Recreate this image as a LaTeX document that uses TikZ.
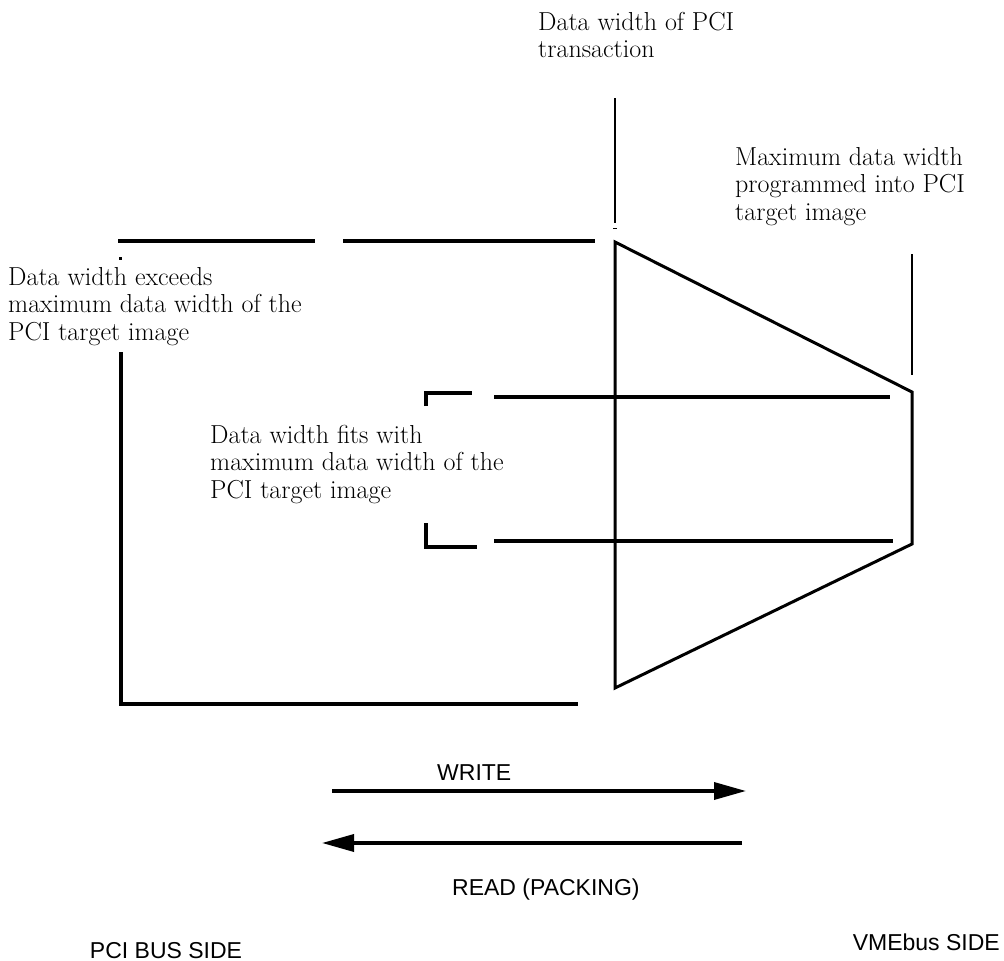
\documentclass[tikz,border=0pt]{standalone}
\usepackage{fontspec}
\setsansfont{Liberation Sans}
\usetikzlibrary{arrows.meta}
\begin{document}
\begin{tikzpicture}[x=1pt,y=-1pt,
  note/.style={anchor=north west, inner sep=0pt, align=left,
    font=\fontsize{26}{27.5}\selectfont},
  tag/.style={anchor=base west, inner sep=0pt,
    font=\sffamily\fontsize{23}{26}\selectfont},
  heavy/.style={line width=3.5pt},
  body/.style={line width=3pt, line join=miter},
  guide/.style={line width=2pt},
  flow/.style={line width=3.5pt, -{Triangle[length=32pt,width=17pt]}}]
\useasboundingbox (0,0) rectangle (1004,961);

% funnel between the PCI side and the VMEbus side
\coordinate (tl) at (615,242);
\coordinate (tr) at (912,392);
\coordinate (br) at (912,544);
\coordinate (bl) at (615,688);
\draw[body] (tl) -- (tr) -- (br) -- (bl) -- cycle;

% width markers above the funnel
\coordinate (pciTop) at (615,98);
\coordinate (pciBot) at (615,223);
\draw[guide] (pciTop) -- (pciBot);
\draw[line width=1pt] (613,228) -- (617,228);
\coordinate (imgTop) at (912,254);
\coordinate (imgBot) at (912,375);
\draw[guide] (imgTop) -- (imgBot);

% outer bracket: data width exceeds the image width
\draw[heavy] (118,241) -- (315,241);
\draw[heavy] (343,241) -- (595,241);
\fill (118.5,256.5) rectangle (121.5,259.5);
\draw[heavy] (121,352) -- (121,704) -- (578,704);

% inner bracket: data width fits the image width
\draw[heavy] (426,406) -- (426,393) -- (472,393);
\draw[heavy] (494,397) -- (890,397);
\draw[heavy] (426,523) -- (426,547) -- (477,547);
\draw[heavy] (494,541) -- (893,541);

% direction arrows
\coordinate (wA) at (332,791);
\coordinate (wB) at (746,791);
\draw[flow] (wA) -- (wB);
\coordinate (rA) at (742,843);
\coordinate (rB) at (322,843);
\draw[flow] (rA) -- (rB);

% labels
\node[note] (pciw) at (538,12) {Data width of PCI\\transaction};
\node[note] (maxw) at (735,147) {Maximum data width\\programmed into PCI\\target image};
\node[note] (exc) at (8,267) {Data width exceeds\\maximum data width of the\\PCI target image};
\node[note] (fit) at (210,425) {Data width fits with\\maximum data width of the\\PCI target image};
\node[tag] (wr) at (437,780) {WRITE};
\node[tag] (rd) at (452,895) {READ (PACKING)};
\node[tag, anchor=base] (pcis) at (166,958) {PCI BUS SIDE};
\node[tag, anchor=base east] (vmes) at (1000,950) {VMEbus SIDE};
\end{tikzpicture}
\end{document}
